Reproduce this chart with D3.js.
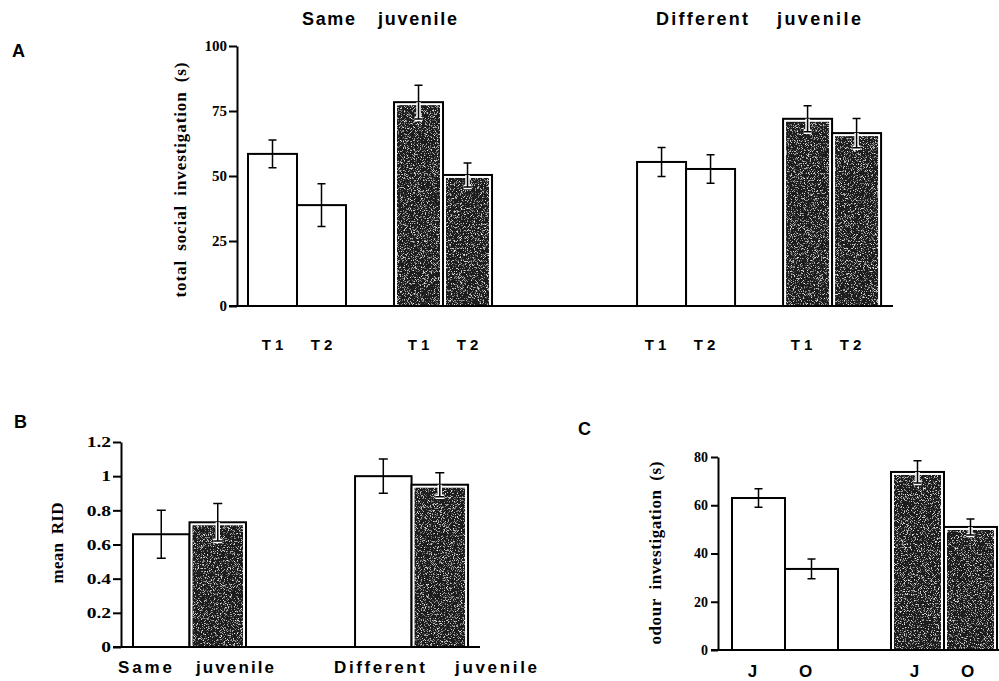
<!DOCTYPE html>
<html>
<head>
<meta charset="utf-8">
<script src="https://cdn.jsdelivr.net/npm/d3@7"></script>
<style>
  body { margin: 0; background: #fff; }
  .serif { font-family: "Liberation Serif", "Times New Roman", serif; font-weight: bold; }
  .sans { font-family: "Liberation Sans", Arial, sans-serif; font-weight: bold; }
</style>
</head>
<body>
<script>
// Panel A - total social investigation (s)
var aCond = ["Same", "Different"];
var aTrial = ["T 1", "T 2"];
var aOpen = [58.5, 38.8, 55.4, 52.7]; // Same T1, T2, Different T1, T2
var aOpenErr = [5.3, 8.2, 5.6, 5.5];
var aShaded = [78.4, 50.4, 72.0, 66.5];
var aShadedErr = [6.5, 4.6, 5.0, 5.6];
var aTicks = [0, 25, 50, 75, 100];

// Panel B - mean RID
var bCond = ["Same", "Different"];
var bOpen = [0.66, 1.0];
var bOpenErr = [0.14, 0.10];
var bShaded = [0.73, 0.95];
var bShadedErr = [0.11, 0.07];
var bTicks = [0, 0.2, 0.4, 0.6, 0.8, 1, 1.2];

// Panel C - odour investigation (s)
var cOdour = ["J", "O"];
var cOpen = [63, 33.6];
var cOpenErr = [3.8, 4.1];
var cShaded = [73.8, 51];
var cShadedErr = [4.6, 3.3];
var cTicks = [0, 20, 40, 60, 80];

var svg = d3.select("body").append("svg")
  .attr("width", 999)
  .attr("height", 681);

// grainy dark fill used for the shaded bars
var defs = svg.append("defs");
var grain = defs.append("filter").attr("id", "grain");
grain.append("feTurbulence")
  .attr("type", "fractalNoise")
  .attr("baseFrequency", 1.3)
  .attr("numOctaves", 2)
  .attr("seed", 7)
  .attr("result", "noise");
grain.append("feColorMatrix")
  .attr("in", "noise")
  .attr("type", "matrix")
  .attr("values", "0 0 0 0 0.85  0 0 0 0 0.85  0 0 0 0 0.85  4.5 0 0 0 -2.5")
  .attr("result", "speck");
grain.append("feComposite")
  .attr("in", "speck")
  .attr("in2", "SourceGraphic")
  .attr("operator", "in")
  .attr("result", "speckIn");
var merge = grain.append("feMerge");
merge.append("feMergeNode").attr("in", "SourceGraphic");
merge.append("feMergeNode").attr("in", "speckIn");

function styleAxis(g, fontSize) {
  g.select(".domain").attr("stroke-width", 2);
  g.selectAll(".tick line").attr("stroke-width", 2);
  g.selectAll(".tick text")
    .attr("class", "serif")
    .style("font-size", fontSize + "px")
    .attr("fill", "#000");
}

// draws bars + error bars from rows {x, w, v, e, shaded}
function drawBars(g, rows, y, cap) {
  var bar = g.selectAll("g.bar").data(rows).enter().append("g").attr("class", "bar");

  bar.append("rect")
    .attr("x", d => d.x)
    .attr("y", d => y(d.v))
    .attr("width", d => d.w)
    .attr("height", d => y(0) - y(d.v))
    .attr("fill", "#fff")
    .attr("stroke", "#000")
    .attr("stroke-width", 2);

  bar.filter(d => d.shaded).append("rect")
    .attr("x", d => d.x + 3)
    .attr("y", d => y(d.v) + 3)
    .attr("width", d => d.w - 6)
    .attr("height", d => y(0) - y(d.v) - 4)
    .attr("fill", "#1a1a1a")
    .attr("filter", "url(#grain)");

  // upper whisker
  bar.append("path")
    .attr("d", d => {
      var cx = d.x + d.w / 2;
      return "M" + cx + "," + y(d.v) + "V" + y(d.v + d.e) +
        "M" + (cx - cap / 2) + "," + y(d.v + d.e) + "H" + (cx + cap / 2);
    })
    .attr("fill", "none")
    .attr("stroke", "#000")
    .attr("stroke-width", 1.5);

  // lower whisker (white halo inside the shaded bars)
  var lower = d => {
    var cx = d.x + d.w / 2;
    return "M" + cx + "," + y(d.v) + "V" + y(d.v - d.e) +
      "M" + (cx - cap / 2) + "," + y(d.v - d.e) + "H" + (cx + cap / 2);
  };
  bar.filter(d => d.shaded).append("path")
    .attr("d", lower)
    .attr("fill", "none")
    .attr("stroke", "#fff")
    .attr("stroke-width", 4.5);
  bar.append("path")
    .attr("d", lower)
    .attr("fill", "none")
    .attr("stroke", "#000")
    .attr("stroke-width", 1.5);
}

function word(txt, x, yPos, len, size, cls, anchor) {
  var t = svg.append("text")
    .attr("class", cls || "sans")
    .attr("x", x)
    .attr("y", yPos)
    .style("font-size", (size || 17) + "px")
    .attr("text-anchor", anchor || "start")
    .text(txt);
  if (len) t.attr("textLength", len).attr("lengthAdjust", "spacing");
  return t;
}

function yLabel(txt, cx, cy, len, size) {
  svg.append("text")
    .attr("class", "serif")
    .attr("transform", "translate(" + cx + "," + cy + ") rotate(-90)")
    .attr("text-anchor", "middle")
    .attr("dy", "0.35em")
    .style("font-size", size + "px")
    .style("word-spacing", "4px")
    .attr("textLength", len)
    .attr("lengthAdjust", "spacing")
    .text(txt);
}

// ---------- Panel A ----------
var yA = d3.scaleLinear().domain([0, 100]).range([306, 46]);
var slotA = d3.scaleLinear().domain([0, 1]).range([248, 297]);
var rowsA = [];
aCond.forEach((c, gi) => {
  aTrial.forEach((t, ti) => {
    var i = gi * 2 + ti;
    rowsA.push({ cond: c, trial: t, shaded: false, v: aOpen[i], e: aOpenErr[i], slot: gi * 7.94 + ti });
    rowsA.push({ cond: c, trial: t, shaded: true, v: aShaded[i], e: aShadedErr[i], slot: gi * 7.94 + 2.98 + ti });
  });
});
rowsA.forEach(d => { d.x = slotA(d.slot); d.w = slotA(1) - slotA(0); });

var gA = svg.append("g");
gA.append("g")
  .attr("transform", "translate(237,0)")
  .call(d3.axisLeft(yA).tickValues(aTicks).tickSize(8).tickPadding(2).tickSizeOuter(0))
  .call(g => styleAxis(g, 15));
gA.append("line")
  .attr("x1", 229).attr("x2", 893)
  .attr("y1", yA(0)).attr("y2", yA(0))
  .attr("stroke", "#000").attr("stroke-width", 2);
drawBars(gA, rowsA, yA, 8);

gA.selectAll("text.trial").data(rowsA).enter().append("text")
  .attr("class", "sans")
  .attr("x", d => d.x + d.w / 2 + (d.cond === "Same" ? 0 : -6))
  .attr("y", 350)
  .attr("text-anchor", "middle")
  .style("font-size", "15px")
  .text(d => d.trial);

word("Same", 302, 25, 53, 18);
word("juvenile", 378, 25, 79, 18);
word("Different", 656, 25, 92, 18);
word("juvenile", 777, 25, 84, 18);
word("A", 12, 57, null, 18);
yLabel("total social investigation (s)", 180, 180, 235, 17);

// ---------- Panel B ----------
var yB = d3.scaleLinear().domain([0, 1.2]).range([647, 442]);
var slotB = d3.scaleLinear().domain([0, 1]).range([133, 189.5]);
var rowsB = [];
bCond.forEach((c, gi) => {
  rowsB.push({ cond: c, shaded: false, v: bOpen[gi], e: bOpenErr[gi], slot: gi * 3.93 });
  rowsB.push({ cond: c, shaded: true, v: bShaded[gi], e: bShadedErr[gi], slot: gi * 3.93 + 1 });
});
rowsB.forEach(d => { d.x = slotB(d.slot); d.w = slotB(1) - slotB(0); });

var gB = svg.append("g");
gB.append("g")
  .attr("transform", "translate(121,0)")
  .call(d3.axisLeft(yB).tickValues(bTicks).tickFormat(d3.format("~g")).tickSize(8).tickPadding(2).tickSizeOuter(0))
  .call(g => styleAxis(g, 15));
gB.selectAll(".tick text").each(function () {
  var w = this.getComputedTextLength();
  d3.select(this).attr("textLength", w * 1.3).attr("lengthAdjust", "spacingAndGlyphs");
});
gB.append("line")
  .attr("x1", 113).attr("x2", 480)
  .attr("y1", yB(0)).attr("y2", yB(0))
  .attr("stroke", "#000").attr("stroke-width", 2);
drawBars(gB, rowsB, yB, 9);

word("Same", 118, 673, 54, 17);
word("juvenile", 196, 673, 78, 17);
word("Different", 334, 673, 91, 17);
word("juvenile", 455, 673, 82, 17);
word("B", 14, 428, null, 18);
yLabel("mean RID", 57, 543, 81, 17);

// ---------- Panel C ----------
var yC = d3.scaleLinear().domain([0, 80]).range([650, 457]);
var slotC = d3.scaleLinear().domain([0, 1]).range([732, 785]);
var rowsC = [];
cOdour.forEach((o, i) => {
  rowsC.push({ odour: o, shaded: false, v: cOpen[i], e: cOpenErr[i], slot: i });
  rowsC.push({ odour: o, shaded: true, v: cShaded[i], e: cShadedErr[i], slot: 3 + i });
});
rowsC.forEach(d => { d.x = slotC(d.slot); d.w = slotC(1) - slotC(0); });

var gC = svg.append("g");
gC.append("g")
  .attr("transform", "translate(718,0)")
  .call(d3.axisLeft(yC).tickValues(cTicks).tickSize(7).tickPadding(3).tickSizeOuter(0))
  .call(g => styleAxis(g, 14));
gC.append("line")
  .attr("x1", 711).attr("x2", 999)
  .attr("y1", yC(0)).attr("y2", yC(0))
  .attr("stroke", "#000").attr("stroke-width", 2);
drawBars(gC, rowsC, yC, 8);

gC.selectAll("text.odour").data(rowsC).enter().append("text")
  .attr("class", "sans")
  .attr("x", d => d.x + d.w / 2 - (d.shaded ? 3 : 6))
  .attr("y", 677)
  .attr("text-anchor", "middle")
  .style("font-size", "17px")
  .text(d => d.odour);

word("C", 578, 435, null, 18);
yLabel("odour investigation (s)", 655, 553, 183, 17);
</script>
</body>
</html>
